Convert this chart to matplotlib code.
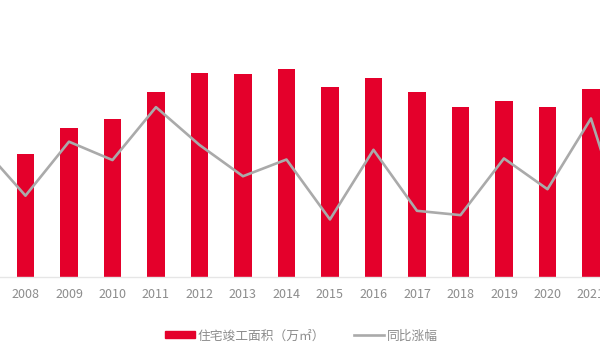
import numpy as np
import matplotlib
matplotlib.use("Agg")
import matplotlib.pyplot as plt

plt.rcParams['font.family'] = ['Noto Sans CJK SC', 'DejaVu Sans']

# Data
years = [2007, 2008, 2009, 2010, 2011, 2012, 2013, 2014, 2015, 2016, 2017, 2018, 2019, 2020, 2021, 2022]
area = [np.nan, 47650, 57800, 61300, 71840, 79370, 78980, 80930, 73900, 77400, 71840, 66100, 68330, 66100, 73240, np.nan]
yoy = [6.2, -2.9, 7.1, 3.7, 13.5, 6.5, 0.7, 3.8, -7.3, 5.6, -5.7, -6.5, 4.0, -1.7, 11.4, -14.0]
tick_years = years[1:-1]

bar_color = "#E4002B"
line_color = "#AAAAAA"
text_color = "#8C8C8C"

fig = plt.figure(figsize=(6, 3.6), dpi=100)
# axes deliberately wider than the figure: the reference is a cropped chart
ax = fig.add_axes([-0.0663, 0.2319, 1.16, 0.641])
ax.bar(years, area, width=0.4, color=bar_color, zorder=2)
ax.set_xlim(2006.5, 2022.5)
ax.set_ylim(0, 90000)
ax.set_xticks(tick_years)
ax.set_xticklabels([str(y) for y in tick_years])
ax.tick_params(axis='x', length=0, pad=8, labelsize=9, labelcolor=text_color)
ax.set_yticks([])
for s in ["top", "left", "right"]:
    ax.spines[s].set_visible(False)
ax.spines["bottom"].set_color("#E6E6E6")
ax.spines["bottom"].set_linewidth(1.0)

ax2 = ax.twinx()
ax2.plot(years, yoy, color=line_color, linewidth=1.9, zorder=3)
ax2.set_ylim(-17.87, 24.87)
ax2.set_yticks([])
for s in ax2.spines.values():
    s.set_visible(False)

handles = [
    plt.Rectangle((0, 0), 1, 1, color=bar_color),
    plt.Line2D([0], [0], color=line_color, linewidth=1.9),
]
fig.legend(handles, ["住宅竣工面积（万㎡）", "同比涨幅"], loc="center",
           bbox_to_anchor=(0.502, 0.067), ncol=2, frameon=False,
           fontsize=9.2, labelcolor=text_color, handlelength=2.4,
           handleheight=0.5, handletextpad=0.2, columnspacing=2.2)

fig.savefig("out.png", dpi=100)
